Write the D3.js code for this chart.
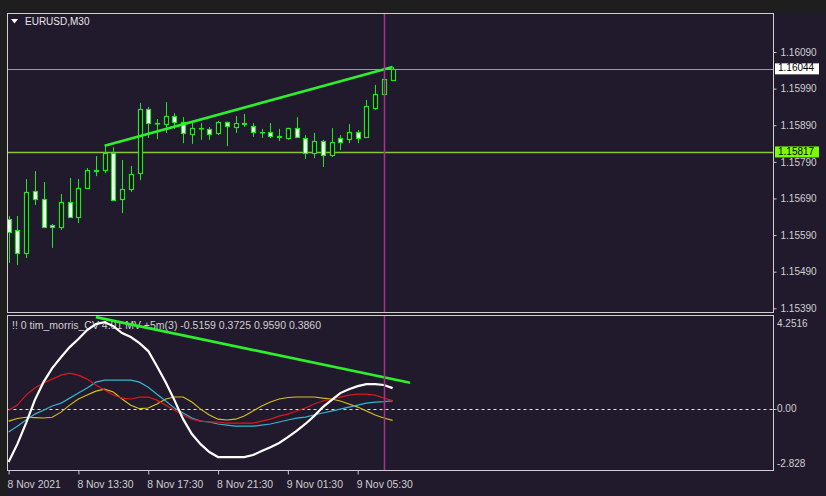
<!DOCTYPE html>
<html><head><meta charset="utf-8">
<script src="https://cdn.jsdelivr.net/npm/d3@7"></script>
<style>html,body{margin:0;padding:0;background:#1f1f1f;overflow:hidden}</style>
</head><body><svg id="c" width="826" height="496"></svg>
<script>
// ---- DATA ----
const symbol = "EURUSD,M30";
const indicatorTitle = "!! 0 tim_morris_CV 4.01 MV +5m(3) -0.5159 0.3725 0.9590 0.3860";
const opens  = [1.15634,1.15604,1.15541,1.15710,1.15688,1.15617,1.15612,1.15680,1.15639,1.15718,1.15768,1.15768,1.15814,1.15688,1.15716,1.15759,1.15934,1.15896,1.15893,1.15915,1.15899,1.15866,1.15882,1.15880,1.15869,1.15899,1.15885,1.15896,1.15888,1.15871,1.15871,1.15861,1.15855,1.15882,1.15855,1.15814,1.15847,1.15809,1.15855,1.15852,1.15871,1.15858,1.15937,1.15975,1.16014];
const highs  = [1.15642,1.15642,1.15743,1.15765,1.15735,1.15620,1.15702,1.15746,1.15743,1.15773,1.15806,1.15834,1.15830,1.15795,1.15779,1.15951,1.15940,1.15907,1.15953,1.15923,1.15912,1.15896,1.15896,1.15885,1.15902,1.15900,1.15915,1.15921,1.15896,1.15880,1.15896,1.15880,1.15883,1.15912,1.15863,1.15869,1.15850,1.15882,1.15863,1.15893,1.15877,1.15959,1.16000,1.16019,1.16049];
const lows   = [1.15514,1.15508,1.15527,1.15672,1.15610,1.15555,1.15604,1.15638,1.15623,1.15716,1.15751,1.15759,1.15683,1.15650,1.15708,1.15740,1.15855,1.15852,1.15869,1.15880,1.15841,1.15839,1.15850,1.15850,1.15863,1.15833,1.15869,1.15885,1.15858,1.15855,1.15855,1.15847,1.15850,1.15855,1.15798,1.15800,1.15776,1.15803,1.15822,1.15841,1.15841,1.15855,1.15932,1.15973,1.16011];
const closes = [1.15598,1.15541,1.15708,1.15688,1.15612,1.15612,1.15680,1.15639,1.15718,1.15768,1.15766,1.15814,1.15686,1.15716,1.15757,1.15934,1.15896,1.15895,1.15915,1.15899,1.15869,1.15882,1.15881,1.15866,1.15899,1.15888,1.15896,1.15893,1.15871,1.15870,1.15861,1.15858,1.15882,1.15858,1.15814,1.15847,1.15809,1.15844,1.15844,1.15871,1.15855,1.15942,1.15975,1.16016,1.16044];

const whiteLine  = [-2.42,-1.60,-0.64,0.41,1.23,1.87,2.37,2.83,3.20,3.61,3.88,3.97,3.79,3.47,3.29,3.01,2.65,1.96,1.23,0.41,-0.46,-1.14,-1.60,-1.96,-2.19,-2.19,-2.19,-2.19,-2.10,-1.92,-1.74,-1.55,-1.28,-1.00,-0.68,-0.32,0.09,0.41,0.73,0.91,1.05,1.14,1.14,1.10,0.959];
const redLine    = [-0.05,0.18,0.64,0.96,1.19,1.37,1.55,1.64,1.55,1.37,1.10,0.87,0.64,0.50,0.46,0.55,0.55,0.41,0.18,-0.05,-0.27,-0.46,-0.55,-0.59,-0.59,-0.64,-0.64,-0.64,-0.64,-0.55,-0.46,-0.32,-0.23,-0.09,0.05,0.23,0.37,0.46,0.55,0.64,0.68,0.68,0.64,0.50,0.386];
const cyanLine   = [-1.05,-0.78,-0.50,-0.23,-0.05,0.14,0.27,0.50,0.73,0.96,1.23,1.32,1.32,1.32,1.32,1.23,1.00,0.68,0.37,0.05,-0.18,-0.41,-0.55,-0.59,-0.68,-0.73,-0.78,-0.78,-0.78,-0.73,-0.68,-0.59,-0.50,-0.41,-0.37,-0.27,-0.18,-0.09,0.00,0.09,0.18,0.27,0.32,0.34,0.3725];
const yellowLine = [-0.55,-0.43,-0.37,-0.39,-0.41,-0.37,-0.14,0.18,0.46,0.64,0.82,0.91,0.78,0.46,0.18,0.02,0.05,0.23,0.46,0.55,0.55,0.32,0.00,-0.27,-0.46,-0.50,-0.46,-0.32,-0.09,0.14,0.32,0.46,0.53,0.55,0.55,0.55,0.50,0.46,0.37,0.23,0.09,-0.09,-0.27,-0.41,-0.5159];

const priceTicks = [1.16090,1.15990,1.15890,1.15790,1.15690,1.15590,1.15490,1.15390];
const timeTickIdx = [0,8,16,24,32,40];
const timeTickLabels = ["8 Nov 2021","8 Nov 13:30","8 Nov 17:30","8 Nov 21:30","9 Nov 01:30","9 Nov 05:30"];
const indTicks = [4.2516, 0.00, -2.828];
const indTickLabels = ["4.2516","0.00","-2.828"];
const hLineGray = 1.16044, hLineGreen = 1.15817;
const vLineIdx = 43;
const trendPrice = [[11,1.15834],[44,1.16049]];
const trendInd = [[10,4.2],[46,1.2]];

// ---- LAYOUT ----
const L = 7.5, R = 773.5, T1 = 13.5, B1 = 312.5, T2 = 315.5, B2 = 470.5;
const svg = d3.select("#c");
const font = "'Liberation Sans', Arial, sans-serif";
svg.append("rect").attr("x",0).attr("y",0).attr("width",826).attr("height",496).attr("fill","#1e1e1e");
svg.append("rect").attr("x",7).attr("y",13).attr("width",819).attr("height",483).attr("fill","#211a2c");

const x = d3.scaleLinear().domain([0,44]).range([8.6,392.6]);
const y = d3.scaleLinear().domain([1.15390,1.16090]).range([308.3,52]);
const yi = d3.scaleLinear().domain([-2.828,4.2516]).range([471,316]);

const defs = svg.append("defs");
defs.append("clipPath").attr("id","cp1").append("rect").attr("x",L).attr("y",T1).attr("width",R-L).attr("height",B1-T1);
defs.append("clipPath").attr("id","cp2").append("rect").attr("x",L).attr("y",T2).attr("width",R-L).attr("height",B2-T2);

// ---- TOP PANEL ----
const g1 = svg.append("g").attr("clip-path","url(#cp1)");
g1.append("line").attr("x1",L).attr("x2",R).attr("y1",Math.round(y(hLineGray))+0.5).attr("y2",Math.round(y(hLineGray))+0.5).attr("stroke","#9a9aae").attr("stroke-width",1);
g1.append("line").attr("x1",L).attr("x2",R).attr("y1",Math.round(y(hLineGreen))+0.5).attr("y2",Math.round(y(hLineGreen))+0.5).attr("stroke","#8ac43c").attr("stroke-width",1.3);

const green = "#1de81d";
const idx = d3.range(opens.length);
const cg = g1.append("g");
idx.forEach(i=>{
  const cx = Math.round(x(i)) + 0.5;
  cg.append("line").attr("x1",cx).attr("x2",cx).attr("y1",y(highs[i])).attr("y2",y(lows[i])).attr("stroke",green).attr("stroke-width",1);
  const top = Math.min(y(opens[i]),y(closes[i])), bot = Math.max(y(opens[i]),y(closes[i]));
  const bull = closes[i] >= opens[i];
  cg.append("rect").attr("x",cx-2).attr("y",Math.round(top)+0.5).attr("width",4).attr("height",Math.max(0.5,Math.round(bot-top)))
    .attr("fill", bull ? "#141018" : "#ffffff").attr("stroke",green).attr("stroke-width",1.2);
});
g1.append("line").attr("x1",x(trendPrice[0][0])).attr("y1",y(trendPrice[0][1])).attr("x2",x(trendPrice[1][0])).attr("y2",y(trendPrice[1][1]))
  .attr("stroke","#2cf02c").attr("stroke-width",2.6);

// ---- BOTTOM PANEL ----
const g2 = svg.append("g").attr("clip-path","url(#cp2)");
g2.append("text").attr("x",12).attr("y",326).attr("dominant-baseline","middle").attr("fill","#d0d0d0").attr("font-family",font).attr("font-size",10.5).text(indicatorTitle);
g2.append("line").attr("x1",L).attr("x2",R).attr("y1",Math.round(yi(0))+0.5).attr("y2",Math.round(yi(0))+0.5).attr("stroke","#e0e0e0").attr("stroke-width",1).attr("stroke-dasharray","3,3");
const line = d3.line().x((d,i)=>x(i)).y(d=>yi(d));
g2.append("path").attr("d",line(yellowLine)).attr("fill","none").attr("stroke","#d4c21c").attr("stroke-width",1.1);
g2.append("path").attr("d",line(cyanLine)).attr("fill","none").attr("stroke","#34b4cf").attr("stroke-width",1.2);
g2.append("path").attr("d",line(redLine)).attr("fill","none").attr("stroke","#d8181c").attr("stroke-width",1.2);
g2.append("path").attr("d",line(whiteLine)).attr("fill","none").attr("stroke","#ffffff").attr("stroke-width",2.2);
g2.append("line").attr("x1",x(trendInd[0][0])).attr("y1",yi(trendInd[0][1])).attr("x2",x(trendInd[1][0])).attr("y2",yi(trendInd[1][1]))
  .attr("stroke","#2cf02c").attr("stroke-width",2.6);

// vertical line
const vx = Math.round(x(vLineIdx))+0.5;
svg.append("line").attr("x1",vx).attr("x2",vx).attr("y1",T1).attr("y2",B1).attr("stroke","#a3348a").attr("stroke-width",1.5);
svg.append("line").attr("x1",vx).attr("x2",vx).attr("y1",T2).attr("y2",B2).attr("stroke","#a3348a").attr("stroke-width",1.5);

// frames
[[T1,B1],[T2,B2]].forEach(([t,b])=>{
  svg.append("rect").attr("x",L).attr("y",t).attr("width",R-L).attr("height",b-t).attr("fill","none").attr("stroke","#cfcfcf").attr("stroke-width",1);
});

// symbol label
svg.append("path").attr("d","M11,19 L18,19 L14.5,23.5 Z").attr("fill","#ffffff");
svg.append("text").attr("x",25).attr("y",22).attr("dominant-baseline","middle").attr("fill","#e6e6e6").attr("font-family",font).attr("font-size",10).text(symbol);

// price axis
const ax1 = svg.append("g").attr("transform",`translate(${R},0)`)
  .call(d3.axisRight(y).tickValues(priceTicks).tickSize(3).tickPadding(4).tickFormat(d3.format(".5f")));
ax1.select(".domain").remove();
ax1.selectAll("line").attr("stroke","#c8c8c8");
ax1.selectAll("text").attr("fill","#d0d0d0").attr("font-family",font).attr("font-size",10);

// price label boxes
[[hLineGray,"#ffffff"],[hLineGreen,"#7cfc00"]].forEach(([p,c])=>{
  const yy = y(p);
  svg.append("rect").attr("x",775).attr("y",yy-5.5).attr("width",44).attr("height",11).attr("fill",c);
  svg.append("text").attr("x",778).attr("y",yy).attr("dominant-baseline","middle").attr("fill","#000").attr("font-family",font).attr("font-size",10).text(d3.format(".5f")(p));
});

// indicator axis labels
indTicks.forEach((v,i)=>{
  let yy = yi(v);
  if (i===0) yy = 324; if (i===2) yy = 464;
  svg.append("text").attr("x",777).attr("y",yy).attr("dominant-baseline","middle").attr("fill","#d0d0d0").attr("font-family",font).attr("font-size",10).text(indTickLabels[i]);
});
svg.append("line").attr("x1",R).attr("x2",R+3).attr("y1",Math.round(yi(0))+0.5).attr("y2",Math.round(yi(0))+0.5).attr("stroke","#c8c8c8");

// time axis
const ax2 = svg.append("g").attr("transform",`translate(0,${B2})`)
  .call(d3.axisBottom(x).tickValues(timeTickIdx).tickSize(4).tickPadding(6).tickFormat((d,i)=>timeTickLabels[i]));
ax2.select(".domain").remove();
ax2.selectAll("line").attr("stroke","#c8c8c8");
ax2.selectAll("text").attr("fill","#d0d0d0").attr("font-family",font).attr("font-size",10.4).attr("text-anchor","start").attr("dx",-1.5);
</script></body></html>
